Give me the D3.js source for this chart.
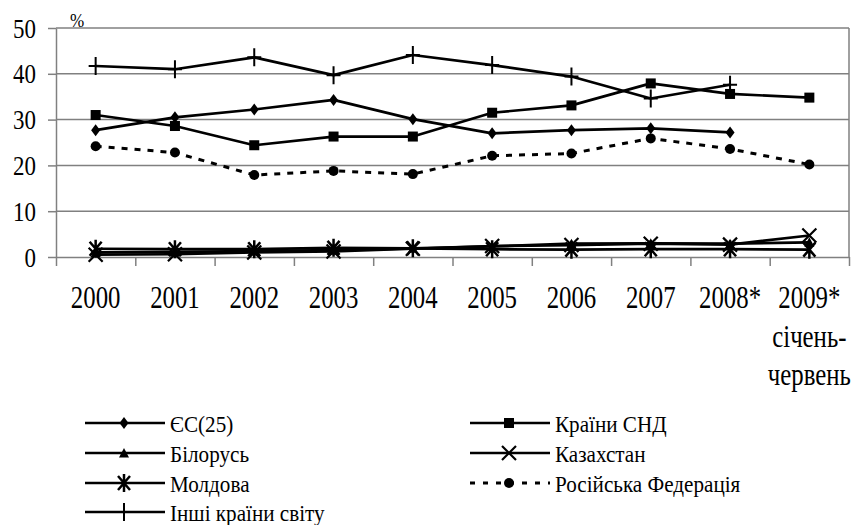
<!DOCTYPE html>
<html><head><meta charset="utf-8">
<script src="https://cdn.jsdelivr.net/npm/d3@7"></script>
<style>html,body{margin:0;padding:0;background:#fff;}svg{display:block;}
text{font-family:"Liberation Serif","Times New Roman","DejaVu Serif",serif;}</style>
</head><body>
<svg id="c" width="851" height="525"></svg>
<script>
const categories = ["2000","2001","2002","2003","2004","2005","2006","2007","2008*","2009*"];
const lastCatExtra = ["січень-","червень"];
const yTicks = [0,10,20,30,40,50];
const yUnit = "%";

const seriesNames = ["ЄС(25)","Країни СНД","Білорусь","Казахстан","Молдова","Російська Федерація","Інші країни світу"];
const eu25       = [27.7,30.5,32.2,34.3,30.1,27.0,27.7,28.1,27.2,null];
const cis        = [31.0,28.6,24.4,26.3,26.3,31.5,33.1,37.9,35.6,34.8];
const belarus    = [1.0,1.1,1.3,1.5,1.9,2.3,2.9,3.0,2.9,3.2];
const kazakhstan = [0.5,0.6,1.0,1.2,1.8,2.4,2.6,2.9,2.7,4.7];
const moldova    = [1.8,1.7,1.7,2.0,1.9,1.7,1.6,1.7,1.7,1.6];
const russia     = [24.2,22.8,17.9,18.8,18.1,22.1,22.6,25.9,23.6,20.2];
const others     = [41.7,41.0,43.6,39.7,44.1,41.9,39.4,34.6,37.6,null];

const seriesValues = [eu25,cis,belarus,kazakhstan,moldova,russia,others];
const markers = ["diamond","square","triangle","x","asterisk","circle","plus"];
const dashed  = [false,false,false,false,false,true,false];

const svg = d3.select("#c");
const L=56, R=849, T=28, B=257;
const x = d3.scaleBand().domain(categories).range([L,R]).padding(0);
const y = d3.scaleLinear().domain([0,50]).range([B,T]);
const GRID = "#808080";

function txt(g, s, px, py, size, sx, anchor){
  return g.append("text").attr("transform",`translate(${px},${py}) scale(${sx},1)`)
    .attr("text-anchor",anchor).attr("font-size",size)
    .attr("fill","#000").text(s);
}

// gridlines
svg.append("g").selectAll("line").data(yTicks.filter(d=>d>0)).join("line")
  .attr("x1",L).attr("x2",R).attr("y1",d=>y(d)).attr("y2",d=>y(d))
  .attr("stroke",GRID).attr("stroke-width",1.5);
// right border
svg.append("line").attr("x1",R).attr("x2",R).attr("y1",T).attr("y2",B).attr("stroke",GRID).attr("stroke-width",1.5);

// y axis
const ya = svg.append("g").attr("transform",`translate(${L},0)`)
  .call(d3.axisLeft(y).tickValues(yTicks).tickSize(8).tickSizeOuter(0).tickFormat(""));
ya.selectAll("path,line").attr("stroke",GRID).attr("stroke-width",1.5);
yTicks.forEach(v=>txt(svg, String(v), 36, y(v)+9.5, 27, 0.85, "end"));
txt(svg, yUnit, 77, 27, 18, 0.95, "middle");

// x axis (ticks at category boundaries)
const bounds = categories.map(c=>x(c)).concat([R]);
const xb = d3.scaleLinear().domain([L,R]).range([L,R]);
const xa = svg.append("g").attr("transform",`translate(0,${B})`)
  .call(d3.axisBottom(xb).tickValues(bounds).tickSize(9).tickSizeOuter(0).tickFormat(""));
xa.selectAll("path,line").attr("stroke",GRID).attr("stroke-width",1.5);
categories.forEach((c,i)=>{
  const cx = x(c)+x.bandwidth()/2;
  txt(svg, c, cx, 308, 31, 0.8, "middle");
  if(i===categories.length-1){
    lastCatExtra.forEach((s,j)=>txt(svg, s, cx, 347+j*38, 31, 0.8, "middle"));
  }
});

function drawMarker(g, type, cx, cy){
  const k = g.append("g").attr("transform",`translate(${cx},${cy})`);
  if(type==="diamond"){
    k.append("path").attr("d","M0,-6L4.5,0L0,6L-4.5,0Z").attr("fill","#000");
  } else if(type==="square"){
    k.append("rect").attr("x",-5).attr("y",-5).attr("width",10).attr("height",10).attr("fill","#000");
  } else if(type==="triangle"){
    k.append("path").attr("d","M0,-5L5,4.5L-5,4.5Z").attr("fill","#000");
  } else if(type==="circle"){
    k.append("circle").attr("r",5).attr("fill","#000");
  } else if(type==="x"){
    k.append("path").attr("d","M-7,-7L7,7M-7,7L7,-7").attr("stroke","#000").attr("stroke-width",2.2);
  } else if(type==="asterisk"){
    k.append("path").attr("d","M-6,-7L6,7M-6,7L6,-7M0,-9L0,9").attr("stroke","#000").attr("stroke-width",2.5);
  } else if(type==="plus"){
    k.append("path").attr("d","M-7,0L7,0M0,-9L0,9").attr("stroke","#000").attr("stroke-width",2);
  }
}

const line = d3.line().defined(d=>d.v!=null).x(d=>d.x).y(d=>y(d.v));
seriesValues.forEach((vals,si)=>{
  const pts = vals.map((v,i)=>({x:x(categories[i])+x.bandwidth()/2, v}));
  const g = svg.append("g");
  g.append("path").attr("d",line(pts)).attr("fill","none").attr("stroke","#000")
    .attr("stroke-width",dashed[si]?3:2.7).attr("stroke-dasharray",dashed[si]?"6,7":null)
    .attr("stroke-linejoin","round");
  pts.filter(p=>p.v!=null).forEach(p=>drawMarker(g, markers[si], p.x, y(p.v)));
});

// legend
const legendPos = [
  {x:85,y:423},{x:470,y:423},
  {x:85,y:453},{x:470,y:453},
  {x:85,y:483},{x:470,y:483},
  {x:85,y:512}
];
seriesNames.forEach((n,si)=>{
  const p = legendPos[si];
  const g = svg.append("g");
  g.append("line").attr("x1",p.x).attr("x2",p.x+80).attr("y1",p.y).attr("y2",p.y)
    .attr("stroke","#000").attr("stroke-width",dashed[si]?3:2.7)
    .attr("stroke-dasharray",dashed[si]?"5,8":null);
  drawMarker(g, markers[si], p.x+39, p.y);
  txt(g, n, p.x+85, p.y+9, 23, 0.92, "start");
});
</script>
</body></html>
